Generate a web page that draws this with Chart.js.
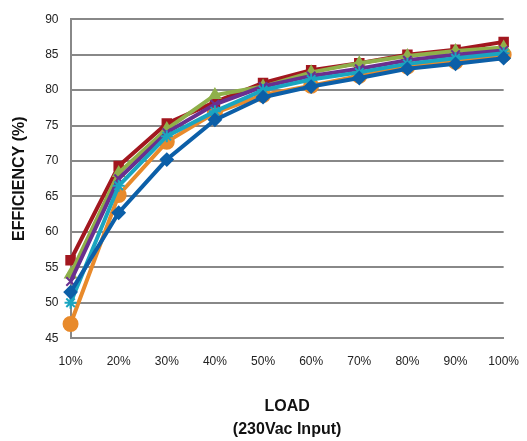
<!DOCTYPE html>
<html><head><meta charset="utf-8">
<script src="https://cdn.jsdelivr.net/npm/chart.js@4"></script>
<style>body{margin:0;background:#fff}#wrap{width:527px;height:441px}</style>
</head><body><div id="wrap"><canvas id="graph"></canvas></div>
<script>
// Datos
const cargas = ['10%','20%','30%','40%','50%','60%','70%','80%','90%','100%'];
const serieRojo = [56, 69.3, 75.3, 78.3, 81, 82.8, 83.8, 85, 85.7, 86.8];
const serieVerde = [54, 68.3, 74.5, 79.3, 80.5, 82.5, 83.8, 84.8, 85.5, 86];
const serieMorado = [53, 67.5, 74, 78, 80.5, 82, 83, 84.2, 85, 85.6];
const serieCian = [50, 66.5, 73.5, 77, 80, 81.5, 82.5, 83.7, 84.5, 85.2];
const serieAzul = [51.5, 62.7, 70.2, 75.8, 79, 80.5, 81.7, 83, 83.7, 84.5];
const serieNaranja = [47, 65.2, 72.7, 76.8, 79.3, 80.6, 82, 83.3, 84, 85];

function serie(data, color, estilo, radio) {
  return { data, borderColor: color, backgroundColor: color, borderWidth: 4,
    pointStyle: estilo, pointRadius: radio, pointBorderWidth: 2, tension: 0 };
}

new Chart(document.getElementById('graph'), {
  type: 'line',
  data: {
    labels: cargas,
    datasets: [
      serie(serieAzul, '#0c5fa8', 'rectRot', 6),
      serie(serieCian, '#1aa5c0', 'star', 6),
      serie(serieMorado, '#6a2f8f', 'crossRot', 6),
      serie(serieVerde, '#8fb04a', 'triangle', 6),
      serie(serieRojo, '#a2171f', 'rect', 6),
      serie(serieNaranja, '#e88a2b', 'circle', 7)
    ]
  },
  options: {
    animation: false, responsive: true, maintainAspectRatio: false,
    layout: { padding: { top: 3, right: 14, left: 6, bottom: 0 } },
    plugins: { legend: { display: false }, tooltip: { enabled: false } },
    scales: {
      x: { grid: { display: false }, border: { color: '#888', width: 2 },
        ticks: { color: '#222', padding: 8, font: { family: 'Liberation Sans', size: 12 } },
        title: { display: true, text: ['LOAD', '(230Vac Input)'], color: '#111',
          font: { family: 'Liberation Sans', size: 16, weight: 'bold', lineHeight: 1.45 }, padding: { top: 18, bottom: 0 } } },
      y: { min: 45, max: 90, grid: { color: '#888', lineWidth: 2, drawTicks: false }, border: { color: '#888', width: 2 },
        ticks: { stepSize: 5, color: '#222', padding: 12, font: { family: 'Liberation Sans', size: 12 } },
        title: { display: true, text: 'EFFICIENCY (%)', color: '#111', padding: { bottom: 4 },
          font: { family: 'Liberation Sans', size: 16, weight: 'bold' } } }
    }
  }
});
</script></body></html>
